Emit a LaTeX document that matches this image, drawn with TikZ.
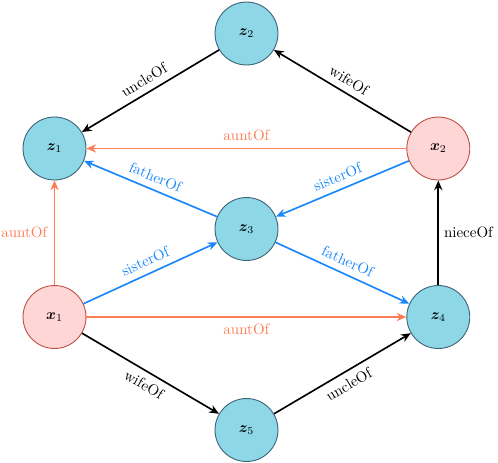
\documentclass[tikz,border=0pt]{standalone}
\usepackage{amsmath,bm}
\usetikzlibrary{arrows.meta}
\definecolor{entfill}{RGB}{142,215,231}
\definecolor{entdraw}{RGB}{60,100,120}
\definecolor{varfill}{RGB}{255,214,214}
\definecolor{vardraw}{RGB}{190,80,70}
\definecolor{relorange}{RGB}{255,125,85}
\definecolor{relblue}{RGB}{25,135,250}
\tikzset{
  ent/.style={circle, draw=entdraw, fill=entfill, line width=0.6pt, minimum size=42pt, inner sep=0pt},
  var/.style={circle, draw=vardraw, fill=varfill, line width=0.6pt, minimum size=42pt, inner sep=0pt},
  rel/.style={line width=1.1pt, -{Stealth[length=6.5pt,width=5.5pt]}},
  relk/.style={rel, black},
  relo/.style={rel, relorange, text=relorange},
  relb/.style={rel, relblue, text=relblue},
  lab/.style={midway, inner sep=4.3pt}
}
\begin{document}
\begin{tikzpicture}[x=0.667pt, y=-0.667pt]
\useasboundingbox (0,0) rectangle (498,462);
\node[ent] (z2) at (246.5,33.5) {$\bm{z}_2$};
\node[ent] (z1) at (54.5,148.5) {$\bm{z}_1$};
\node[var] (x2) at (438.3,148.5) {$\bm{x}_2$};
\node[ent] (z3) at (246.5,229) {$\bm{z}_3$};
\node[var] (x1) at (54.5,317) {$\bm{x}_1$};
\node[ent] (z4) at (438.3,317) {$\bm{z}_4$};
\node[ent] (z5) at (246.5,430) {$\bm{z}_5$};
\draw[relk] (z2) -- node[lab, sloped, above] {uncleOf} (z1);
\draw[relk] (x2) -- node[lab, sloped, above] {wifeOf} (z2);
\draw[relo] (x2) -- node[lab, above] {auntOf} (z1);
\draw[relb] (z3) -- node[lab, sloped, above] {fatherOf} (z1);
\draw[relb] (x2) -- node[lab, sloped, above] {sisterOf} (z3);
\draw[relo] (x1) -- node[lab, left] {auntOf} (z1);
\draw[relb] (x1) -- node[lab, sloped, above] {sisterOf} (z3);
\draw[relb] (z3) -- node[lab, sloped, above] {fatherOf} (z4);
\draw[relk] (z4) -- node[lab, right, inner sep=3.3pt] {nieceOf} (x2);
\draw[relo] (x1) -- node[lab, below] {auntOf} (z4);
\draw[relk] (x1) -- node[lab, sloped, below] {wifeOf} (z5);
\draw[relk] (z5) -- node[lab, sloped, below] {uncleOf} (z4);
\end{tikzpicture}
\end{document}
